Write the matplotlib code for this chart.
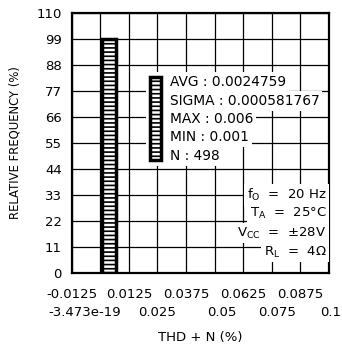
import matplotlib
matplotlib.use("Agg")
import matplotlib.pyplot as plt
from matplotlib.patches import Rectangle
from matplotlib.transforms import ScaledTranslation

plt.rcParams['font.family'] = ['DejaVu Sans']
plt.rcParams['hatch.linewidth'] = 1.2

# histogram data
bin_left = [0.0007]
bin_width = [0.0063]
rel_freq = [99]

# axes ticks
y_ticks = [0, 11, 22, 33, 44, 55, 66, 77, 88, 99, 110]
x_major = [0.0, 0.025, 0.05, 0.075, 0.1]
x_major_labels = ['-3.473e-19', '0.025', '0.05', '0.075', '0.1']
x_minor = [-0.0125, 0.0125, 0.0375, 0.0625, 0.0875]
x_minor_labels = ['-0.0125', '0.0125', '0.0375', '0.0625', '0.0875']

# text blocks
stats = ['AVG : 0.0024759', 'SIGMA : 0.000581767', 'MAX : 0.006',
         'MIN : 0.001', 'N : 498']
conditions = [r'f$_\mathrm{O}$  =  20 Hz', r'T$_\mathrm{A}$  =  25°C',
              r'V$_\mathrm{CC}$  =  ±28V', r'R$_\mathrm{L}$  =  4Ω']

fig = plt.figure(figsize=(3.42, 3.51), dpi=100)
ax = fig.add_axes([71.7 / 342, 1 - 272.5 / 351, 257.3 / 342, 259.8 / 351])

ax.bar(bin_left, rel_freq, width=bin_width, align='edge', color='white',
       edgecolor='black', linewidth=2.5, hatch='----', zorder=2)

ax.set_xlim(-0.0125, 0.1)
ax.set_ylim(0, 110)
ax.set_yticks(y_ticks)
ax.set_xticks(x_major, labels=x_major_labels)
ax.set_xticks(x_minor, labels=x_minor_labels, minor=True)
ax.tick_params(which='both', length=0, labelsize=9.5)
ax.tick_params(axis='x', which='major', pad=24)
ax.tick_params(axis='x', which='minor', pad=11)
ax.tick_params(axis='y', pad=7)

# second row labels sit a little off their ticks in the original
shifts = [-16, 0, 7, 5, 2]
for lab, dx in zip(ax.get_xticklabels(), shifts):
    lab.set_transform(lab.get_transform() +
                      ScaledTranslation(dx / 100, 0, fig.dpi_scale_trans))

ax.set_axisbelow(True)
ax.grid(True, which='both', color='black', linewidth=0.9)
for s in ax.spines.values():
    s.set_linewidth(1.6)

ax.set_ylabel('RELATIVE FREQUENCY (%)', fontsize=8.4, labelpad=11)
ax.set_xlabel('THD + N (%)', fontsize=9.5, labelpad=9)

# stats legend: hatched handle on white
ax.add_patch(Rectangle((0.287, 0.41), 0.093, 0.36,
                       transform=ax.transAxes, facecolor='white',
                       edgecolor='none', zorder=3))
ax.add_patch(Rectangle((0.304, 0.433), 0.043, 0.319, transform=ax.transAxes,
                       facecolor='white', edgecolor='black', linewidth=2.5,
                       hatch='----', zorder=4))
stat_y = [0.733, 0.660, 0.591, 0.521, 0.448]
for t, yy in zip(stats, stat_y):
    ax.text(0.382, yy, t, transform=ax.transAxes, fontsize=9.9,
            ha='left', va='center', zorder=5,
            bbox=dict(facecolor='white', edgecolor='none', pad=2))

# test conditions
cond_y = [0.298, 0.229, 0.152, 0.079]
for t, yy in zip(conditions, cond_y):
    ax.text(0.99, yy, t, transform=ax.transAxes, fontsize=9.5,
            ha='right', va='center', zorder=5,
            bbox=dict(facecolor='white', edgecolor='none', pad=2))

fig.savefig('out.png', dpi=100)
